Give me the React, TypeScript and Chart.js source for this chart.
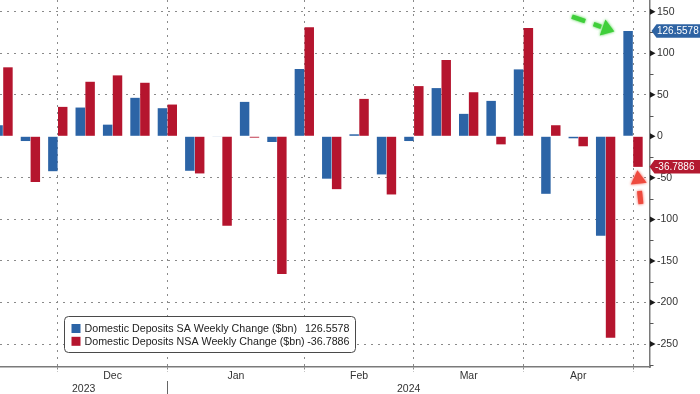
import React, { useEffect, useRef } from 'react';
import { Chart, registerables } from 'chart.js';

Chart.register(...registerables);

// ---------- data ----------
const weeks = [
  '2023-11-22', '2023-11-29', '2023-12-06', '2023-12-13', '2023-12-20', '2023-12-27',
  '2024-01-03', '2024-01-10', '2024-01-17', '2024-01-24', '2024-01-31', '2024-02-07',
  '2024-02-14', '2024-02-21', '2024-02-28', '2024-03-06', '2024-03-13', '2024-03-20',
  '2024-03-27', '2024-04-03', '2024-04-10', '2024-04-17', '2024-04-24', '2024-05-01',
];
const saChange = [
  13.3, -5.7, -42, 34.6, 14, 46.3, 33.8, -41.5, -0.5, 41.4, -6.9, 81,
  -51, 2.4, -45.9, -5.7, 58, 27, 42.6, 80.5, -69.2, -2.4, -119.6, 126.5578,
];
const nsaChange = [
  83, -55, 35.4, 65.6, 73.3, 64.4, 38.2, -44.7, -107.5, -1.6, -165.8, 131.3,
  -63.6, 45, -70, 60.4, 91.8, 53, -9.7, 130.4, 13.3, -12, -242.4, -36.7886,
];
const saLabel = 'Domestic Deposits SA Weekly Change ($bn)';
const nsaLabel = 'Domestic Deposits NSA Weekly Change ($bn)';
const saLastText = '126.5578';
const nsaLastText = '-36.7886';
const monthNames = ['Jan', 'Feb', 'Mar', 'Apr', 'May', 'Jun', 'Jul', 'Aug', 'Sep', 'Oct', 'Nov', 'Dec'];
const yTicks = [-250, -200, -150, -100, -50, 0, 50, 100, 150];
const yMinorTicks = [-275, -225, -175, -125, -75, -25, 25, 75, 125];

// view window
const X_MIN = -0.11;
const X_MAX = 23.62;
const Y_MIN = -277.6;
const Y_MAX = 164;

const BLUE = '#2c64a6';
const RED = '#b5152e';
const GRID = '#8a8a8a';
const AXIS = '#7a7a7a';
const TEXT = '#333333';
const FONT = 'Liberation Sans';

// derived month / year positions
const monthStarts: number[] = [];
const yearStarts: number[] = [];
weeks.forEach((w, i) => {
  if (i === 0) return;
  if (w.slice(5, 7) !== weeks[i - 1].slice(5, 7)) monthStarts.push(i);
  if (w.slice(0, 4) !== weeks[i - 1].slice(0, 4)) yearStarts.push(i);
});
const monthLabelTicks = monthStarts.slice(0, -1).map((s, k) => ({
  value: (s + monthStarts[k + 1]) / 2,
  label: monthNames[parseInt(weeks[s].slice(5, 7), 10) - 1],
}));
const yearEdges = [X_MIN, ...yearStarts, X_MAX];
const yearNames = [weeks[0].slice(0, 4), ...yearStarts.map((s) => weeks[s].slice(0, 4))];
const yearLabelTicks = yearNames.map((n, k) => ({ value: (yearEdges[k] + yearEdges[k + 1]) / 2, label: n }));

const isMonthStart = (v: number) => monthStarts.includes(v);
const isYearStart = (v: number) => yearStarts.includes(v);

function drawArrow(
  ctx: CanvasRenderingContext2D, tx: number, ty: number, angleDeg: number, color: string,
  headLen: number, headHalf: number, dashes: number[][], lw: number,
) {
  const a = (angleDeg * Math.PI) / 180;
  const ux = Math.cos(a), uy = Math.sin(a);
  const nx = -uy, ny = ux;
  ctx.save();
  ctx.shadowColor = color;
  ctx.shadowBlur = 3;
  ctx.fillStyle = color;
  ctx.strokeStyle = color;
  ctx.lineWidth = lw;
  ctx.lineCap = 'butt';
  const bx = tx - headLen * ux, by = ty - headLen * uy;
  ctx.beginPath();
  ctx.moveTo(tx, ty);
  ctx.lineTo(bx + headHalf * nx, by + headHalf * ny);
  ctx.lineTo(bx - headHalf * nx, by - headHalf * ny);
  ctx.closePath();
  ctx.fill();
  for (const [d0, d1] of dashes) {
    ctx.beginPath();
    ctx.moveTo(tx - d0 * ux, ty - d0 * uy);
    ctx.lineTo(tx - d1 * ux, ty - d1 * uy);
    ctx.stroke();
  }
  ctx.restore();
}

function valueTag(ctx: CanvasRenderingContext2D, x: number, yc: number, right: number, text: string, color: string) {
  const h = 13.5;
  ctx.save();
  ctx.fillStyle = color;
  ctx.beginPath();
  ctx.moveTo(x, yc);
  ctx.lineTo(x + 5, yc - h / 2);
  ctx.lineTo(right, yc - h / 2);
  ctx.lineTo(right, yc + h / 2);
  ctx.lineTo(x + 5, yc + h / 2);
  ctx.closePath();
  ctx.fill();
  ctx.fillStyle = '#ffffff';
  ctx.font = `10px "${FONT}"`;
  ctx.textBaseline = 'middle';
  ctx.textAlign = 'left';
  ctx.fillText(text, x + 5.5, yc + 0.5);
  ctx.restore();
}

const decorPlugin = {
  id: 'decor',
  afterDraw(chart: any) {
    const ctx: CanvasRenderingContext2D = chart.ctx;
    const ys = chart.scales.y;
    const area = chart.chartArea;
    const x0 = ys.left;

    // y-axis minor ticks
    ctx.save();
    ctx.strokeStyle = '#555';
    ctx.lineWidth = 1;
    for (const v of yMinorTicks) {
      const py = Math.round(ys.getPixelForValue(v)) + 0.5;
      ctx.beginPath();
      ctx.moveTo(x0, py);
      ctx.lineTo(x0 + 3.5, py);
      ctx.stroke();
    }
    // y-axis major ticks (small arrowheads)
    ctx.fillStyle = '#1a1a1a';
    for (const v of yTicks) {
      const py = ys.getPixelForValue(v);
      ctx.beginPath();
      ctx.moveTo(x0, py - 3);
      ctx.lineTo(x0 + 5.5, py);
      ctx.lineTo(x0, py + 3);
      ctx.closePath();
      ctx.fill();
    }
    ctx.restore();

    // last value tags
    const last = saChange.length - 1;
    valueTag(ctx, x0 + 1.5, ys.getPixelForValue(saChange[last]), chart.width, saLastText, '#2e63a3');
    valueTag(ctx, x0 - 0.5, ys.getPixelForValue(nsaChange[last]), chart.width, nsaLastText, '#b31a30');

    // annotation arrows
    const bBar = chart.getDatasetMeta(0).data[last];
    const rBar = chart.getDatasetMeta(1).data[last];
    drawArrow(ctx, bBar.x - bBar.width / 2 - 9, bBar.y + 0.5, 19.6, '#3fcf3a', 12.5, 8.5, [[14, 22], [31, 45]], 4.5);
    drawArrow(ctx, rBar.x - 0.6, rBar.y + 3.3, -96, '#ee4a3e', 13.5, 8, [[21, 34]], 5);

    // legend box
    const lx = area.left + 64.5;
    const ly = area.top + 316.5;
    const lw = 291;
    const lh = 36;
    ctx.save();
    ctx.fillStyle = '#ffffff';
    ctx.strokeStyle = '#4a4a4a';
    ctx.lineWidth = 1;
    ctx.beginPath();
    ctx.roundRect(lx, ly, lw, lh, 4);
    ctx.fill();
    ctx.stroke();
    ctx.font = `10.7px "${FONT}"`;
    ctx.textBaseline = 'middle';
    const rows = [
      { c: BLUE, t: saLabel, v: saLastText },
      { c: RED, t: nsaLabel, v: nsaLastText },
    ];
    rows.forEach((r, k) => {
      const cy = ly + 12 + k * 12.8;
      ctx.fillStyle = r.c;
      ctx.fillRect(lx + 7, cy - 4.5, 9, 9);
      ctx.fillStyle = '#222';
      ctx.textAlign = 'left';
      ctx.fillText(r.t, lx + 20, cy + 0.5);
      ctx.textAlign = 'right';
      ctx.fillText(r.v, lx + lw - 6, cy + 0.5);
    });
    ctx.restore();
  },
};

export default function App() {
  const ref = useRef<HTMLCanvasElement | null>(null);
  useEffect(() => {
    if (!ref.current) return;
    const chart = new Chart(ref.current, {
      type: 'bar',
      data: {
        datasets: [
          {
            label: saLabel,
            data: saChange.map((v, i) => ({ x: i, y: v })),
            backgroundColor: BLUE,
            categoryPercentage: 0.72,
            barPercentage: 0.96,
            xAxisID: 'x',
            yAxisID: 'y',
          },
          {
            label: nsaLabel,
            data: nsaChange.map((v, i) => ({ x: i, y: v })),
            backgroundColor: RED,
            categoryPercentage: 0.72,
            barPercentage: 0.96,
            xAxisID: 'x',
            yAxisID: 'y',
          },
        ],
      },
      options: {
        animation: false,
        responsive: false,
        devicePixelRatio: 1,
        events: [],
        layout: { padding: 0 },
        plugins: { legend: { display: false }, tooltip: { enabled: false }, title: { display: false } },
        scales: {
          x: {
            type: 'linear',
            position: 'bottom',
            weight: 0,
            min: X_MIN,
            max: X_MAX,
            bounds: 'data',
            offset: false,
            afterBuildTicks: (s: any) => {
              const t = [
                ...monthStarts.map((v) => ({ value: v })),
                ...monthLabelTicks.map((m) => ({ value: m.value })),
              ].sort((a, b) => a.value - b.value);
              s.ticks = t;
            },
            afterFit: (s: any) => { s.height = 14; s.paddingLeft = 0; s.paddingRight = 0; },
            ticks: {
              autoSkip: false,
              maxRotation: 0,
              minRotation: 0,
              padding: -2,
              color: TEXT,
              font: { family: FONT, size: 10.5 },
              callback: (v: any) => {
                const m = monthLabelTicks.find((t) => Math.abs(t.value - v) < 1e-6);
                return m ? m.label : '';
              },
            },
            grid: {
              offset: false,
              drawOnChartArea: true,
              drawTicks: true,
              tickLength: 5,
              lineWidth: 1,
              color: (c: any) => (c.tick && isMonthStart(c.tick.value) ? GRID : 'rgba(0,0,0,0)'),
              tickColor: (c: any) => (c.tick && isMonthStart(c.tick.value) ? GRID : 'rgba(0,0,0,0)'),
              tickBorderDash: [2, 2],
            },
            border: { display: true, color: AXIS, width: 1.5, dash: [2, 5] },
          },
          xYear: {
            type: 'linear',
            position: 'bottom',
            weight: 1,
            min: X_MIN,
            max: X_MAX,
            bounds: 'data',
            offset: false,
            afterBuildTicks: (s: any) => {
              s.ticks = [
                ...yearStarts.map((v) => ({ value: v })),
                ...yearLabelTicks.map((m) => ({ value: m.value })),
              ].sort((a, b) => a.value - b.value);
            },
            afterFit: (s: any) => { s.height = 13; s.paddingLeft = 0; s.paddingRight = 0; },
            ticks: {
              autoSkip: false,
              maxRotation: 0,
              minRotation: 0,
              padding: -11,
              color: TEXT,
              font: { family: FONT, size: 10.5 },
              callback: (v: any) => {
                const m = yearLabelTicks.find((t) => Math.abs(t.value - v) < 1e-6);
                return m ? m.label : '';
              },
            },
            grid: {
              offset: false,
              drawOnChartArea: false,
              drawTicks: true,
              tickLength: 13,
              tickWidth: 1,
              tickColor: (c: any) => (c.tick && isYearStart(c.tick.value) ? '#666' : 'rgba(0,0,0,0)'),
            },
            border: { display: false },
          },
          y: {
            type: 'linear',
            position: 'right',
            min: Y_MIN,
            max: Y_MAX,
            bounds: 'data',
            afterBuildTicks: (s: any) => { s.ticks = yTicks.map((v) => ({ value: v })); },
            afterFit: (s: any) => { s.width = 50; s.paddingTop = 0; s.paddingBottom = 0; },
            ticks: {
              padding: 7,
              color: TEXT,
              font: { family: FONT, size: 10.5 },
              callback: (v: any) => String(v),
            },
            grid: {
              drawTicks: false,
              lineWidth: 1,
              color: (c: any) => (c.tick && c.tick.value === 0 ? 'rgba(0,0,0,0)' : GRID),
            },
            border: { display: true, color: AXIS, width: 1.5, dash: [2, 5] },
          },
        },
      },
      plugins: [decorPlugin],
    } as any);
    return () => chart.destroy();
  }, []);

  return (
    <div style={{ position: 'absolute', left: 0, top: 0, width: 700, height: 394, background: '#fff' }}>
      <canvas ref={ref} width={700} height={394} style={{ display: 'block', width: 700, height: 394 }} />
    </div>
  );
}
